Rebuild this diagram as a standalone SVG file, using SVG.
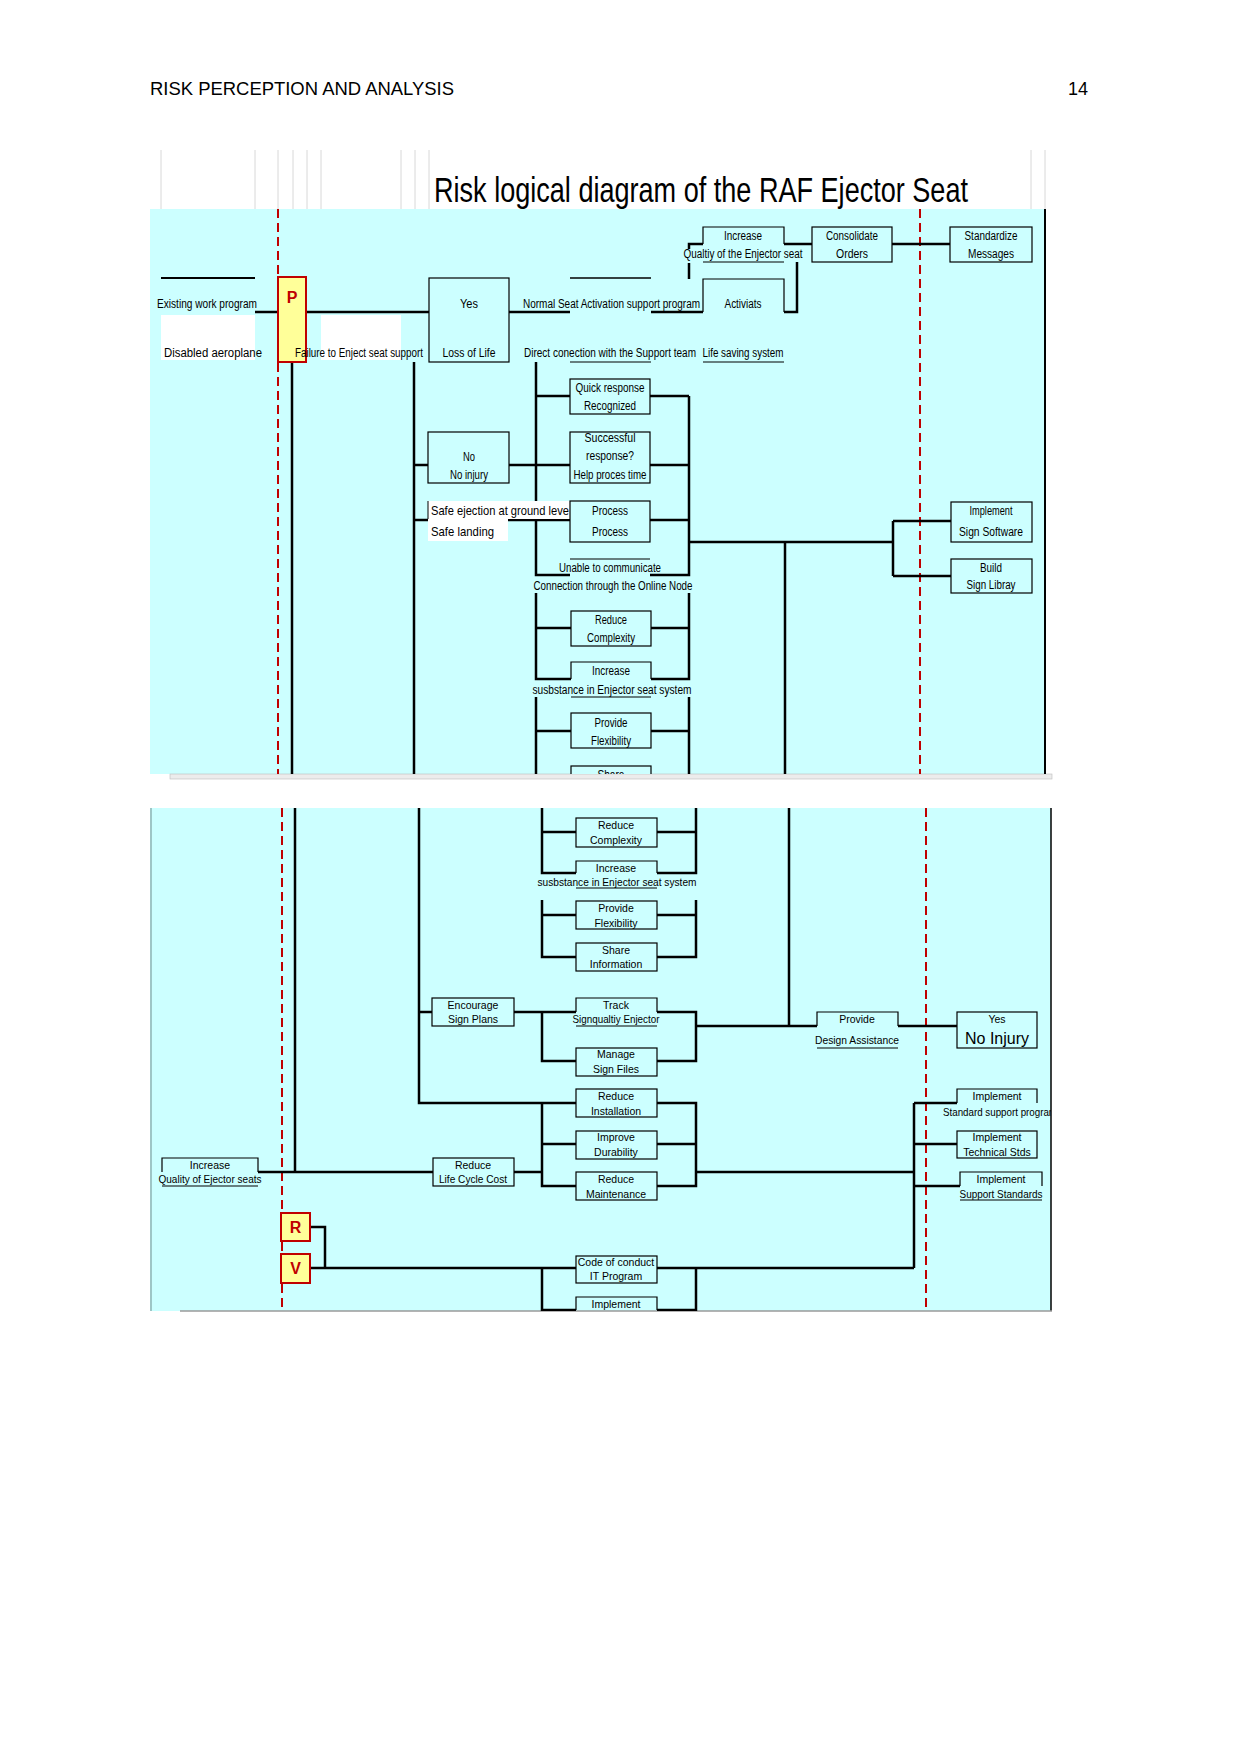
<svg xmlns="http://www.w3.org/2000/svg" width="1241" height="1754" viewBox="0 0 1241 1754">
<defs>
<style>
.bg{fill:#ccffff}
.ln{stroke:#000;stroke-width:2.5;fill:none}
.th{stroke:#000;stroke-width:1.2;fill:none}
.box{fill:#ccffff;stroke:#000;stroke-width:1.2}
.wh{fill:#ffffff}
.red{stroke:#c00000;stroke-width:2;stroke-dasharray:9 5;fill:none}
.grid{stroke:#d8d8d8;stroke-width:1}
.pv{fill:#ffff99;stroke:#c00000;stroke-width:2}
.pvt{font-family:"Liberation Sans",Arial,sans-serif;font-weight:bold;font-size:16px;fill:#c00000;text-anchor:middle}
.t{font-family:"Liberation Sans",Arial,sans-serif;font-size:12.5px;fill:#000;text-anchor:middle}
.s{font-family:"Liberation Sans",Arial,sans-serif;font-size:10.5px;fill:#000;text-anchor:middle}
.st{text-anchor:start}
.hd{font-family:"Liberation Sans",Arial,sans-serif;font-size:18px;fill:#000}
</style>
<clipPath id="c1"><rect x="150" y="150" width="895" height="624"/></clipPath>
<clipPath id="c2"><rect x="150" y="808" width="901" height="503"/></clipPath>
</defs>
<rect width="1241" height="1754" fill="#ffffff"/>
<text class="hd" x="150" y="95" textLength="304" lengthAdjust="spacingAndGlyphs">RISK PERCEPTION AND ANALYSIS</text>
<text class="hd" x="1068" y="95">14</text>

<!-- Panel 1 -->
<g id="panel1">
<g class="grid">
<line x1="161" y1="150" x2="161" y2="209"/><line x1="255" y1="150" x2="255" y2="209"/>
<line x1="278" y1="150" x2="278" y2="209"/><line x1="293" y1="150" x2="293" y2="209"/>
<line x1="307" y1="150" x2="307" y2="209"/><line x1="321" y1="150" x2="321" y2="209"/>
<line x1="401" y1="150" x2="401" y2="209"/><line x1="415" y1="150" x2="415" y2="209"/>
<line x1="429" y1="150" x2="429" y2="209"/><line x1="1031" y1="150" x2="1031" y2="209"/>
<line x1="1045" y1="150" x2="1045" y2="209"/>
</g>
<text x="434" y="202" font-family="Liberation Sans, Arial, sans-serif" font-size="35" textLength="534" lengthAdjust="spacingAndGlyphs">Risk logical diagram of the RAF Ejector Seat</text>
<rect class="bg" x="150" y="209" width="895" height="565"/>
<rect x="170" y="774" width="882" height="5" fill="#ececec" stroke="#bdbdbd" stroke-width="0.6"/>
<line x1="1045" y1="209" x2="1045" y2="774" stroke="#000" stroke-width="2"/>
</g>

<g id="panel2">
<rect class="bg" x="150" y="808" width="901" height="503"/>
<line x1="151" y1="808" x2="151" y2="1311" stroke="#7f9f9f" stroke-width="1.2"/>
<line x1="1051" y1="808" x2="1051" y2="1311" stroke="#000" stroke-width="1.5"/>
<line x1="180" y1="1311" x2="1052" y2="1311" stroke="#9a9a9a" stroke-width="1.5"/>
</g>

<!-- connectors -->
<g id="connectors">
<g clip-path="url(#c1)">
<line class="red" x1="278" y1="209" x2="278" y2="774"/>
<line class="red" x1="920" y1="209" x2="920" y2="774"/>
<line x1="161" y1="278" x2="255" y2="278" stroke="#000" stroke-width="2"/>
<path class="ln" d="M255,312H278 M306,312H429 M509,312H570 M651,312H703 M784,312H797V262"/>
<line x1="570" y1="278" x2="651" y2="278" stroke="#000" stroke-width="1.6"/>
<path class="ln" d="M689,249V244H703 M689,263V279 M784,244H812 M892,244H950"/>
<path class="th" d="M570,362H651 M703,362H784"/>
<path class="ln" d="M292,362V774 M414,362V774"/>
<path class="ln" d="M536,362V575H570 M536,593V679H571 M536,697V774"/>
<path class="ln" d="M689,396V575H650 M689,593V679H651 M689,697V774"/>
<path class="ln" d="M536,396H570 M650,396H689 M509,465H570 M650,465H689 M414,465H428 M650,520H689 M536,628H571 M651,628H689 M536,731H571 M651,731H689"/>
<line x1="414" y1="520" x2="570" y2="520" stroke="#000" stroke-width="2.5"/>
<path class="ln" d="M689,542H893 M785,542V774 M893,521V576 M893,521H951 M893,576H951"/>
</g>
<g clip-path="url(#c2)">
<line class="red" x1="282" y1="808" x2="282" y2="1311"/>
<line class="red" x1="926" y1="808" x2="926" y2="1311"/>
<path class="ln" d="M295,808V1172 M419,808V1103H576 M789,808V1026"/>
<path class="ln" d="M542,808V873H576 M696,808V873H657 M542,832H576 M657,832H696"/>
<path class="ln" d="M542,900V957H576 M696,900V957H657 M542,915H576 M657,915H696"/>
<path class="ln" d="M419,1012H432 M514,1012H576 M542,1012V1061H576 M657,1012H696V1061H657 M696,1026H817 M898,1026H957"/>
<path class="ln" d="M542,1103V1186H576 M657,1103H696V1186H657 M542,1144H576 M657,1144H696"/>
<path class="ln" d="M258,1172H433 M514,1172H542 M696,1172H914 M914,1103V1268 M914,1103H957 M914,1144H957 M914,1186H960"/>
<path class="ln" d="M310,1227H325V1268 M310,1268H576 M657,1268H914 M542,1268V1310H576 M696,1268V1310H657"/>
</g>
</g>

<!-- nodes panel 1 -->
<g clip-path="url(#c1)">
<g id="n-existing">
<text class="t" x="207" y="308" textLength="100" lengthAdjust="spacingAndGlyphs">Existing work program</text>
</g>
<g id="n-disabled">
<rect class="wh" x="161" y="315" width="94" height="45"/>
<text class="t st" x="164" y="357" textLength="98" lengthAdjust="spacingAndGlyphs">Disabled aeroplane</text>
</g>
<g id="n-p">
<rect class="pv" x="278" y="277" width="28" height="85"/>
<text class="pvt" x="292" y="303">P</text>
</g>
<g id="n-failure">
<rect class="wh" x="321" y="315" width="80" height="45"/>
<text class="t st" x="295" y="357" textLength="128" lengthAdjust="spacingAndGlyphs">Failure to Enject seat support</text>
</g>
<g id="n-yes">
<rect class="box" x="429" y="278" width="80" height="84"/>
<text class="t" x="469" y="308" textLength="18" lengthAdjust="spacingAndGlyphs">Yes</text>
<text class="t" x="469" y="357" textLength="53" lengthAdjust="spacingAndGlyphs">Loss of Life</text>
</g>
<g id="n-normal">
<text class="t st" x="523" y="308" textLength="177" lengthAdjust="spacingAndGlyphs">Normal Seat Activation support program</text>
<text class="t st" x="524" y="357" textLength="172" lengthAdjust="spacingAndGlyphs">Direct conection with the Support team</text>
</g>
<g id="n-activiats">
<path class="th" d="M703,312V279H784V312"/>
<text class="t" x="743" y="308" textLength="37" lengthAdjust="spacingAndGlyphs">Activiats</text>
<text class="t" x="743" y="357" textLength="81" lengthAdjust="spacingAndGlyphs">Life saving system</text>
</g>
<g id="n-increase-q">
<path class="th" d="M703,244V227H784V244 M703,262H784"/>
<text class="t" x="743" y="240" textLength="38" lengthAdjust="spacingAndGlyphs">Increase</text>
<text class="t" x="743" y="258" textLength="119" lengthAdjust="spacingAndGlyphs">Qualtiy of the Enjector seat</text>
</g>
<g id="n-consolidate">
<rect class="box" x="812" y="227" width="80" height="35"/>
<text class="t" x="852" y="240" textLength="52" lengthAdjust="spacingAndGlyphs">Consolidate</text>
<text class="t" x="852" y="258" textLength="32" lengthAdjust="spacingAndGlyphs">Orders</text>
</g>
<g id="n-standardize">
<rect class="box" x="950" y="227" width="82" height="35"/>
<text class="t" x="991" y="240" textLength="53" lengthAdjust="spacingAndGlyphs">Standardize</text>
<text class="t" x="991" y="258" textLength="46" lengthAdjust="spacingAndGlyphs">Messages</text>
</g>
<g id="n-quick">
<rect class="box" x="570" y="379" width="80" height="35"/>
<text class="t" x="610" y="392" textLength="69" lengthAdjust="spacingAndGlyphs">Quick response</text>
<text class="t" x="610" y="410" textLength="52" lengthAdjust="spacingAndGlyphs">Recognized</text>
</g>
<g id="n-no">
<rect class="box" x="428" y="432" width="81" height="51"/>
<text class="t" x="469" y="461" textLength="12" lengthAdjust="spacingAndGlyphs">No</text>
<text class="t" x="469" y="479" textLength="38" lengthAdjust="spacingAndGlyphs">No injury</text>
</g>
<g id="n-successful">
<rect class="box" x="570" y="432" width="80" height="51"/>
<text class="t" x="610" y="442" textLength="51" lengthAdjust="spacingAndGlyphs">Successful</text>
<text class="t" x="610" y="460" textLength="48" lengthAdjust="spacingAndGlyphs">response?</text>
<text class="t" x="610" y="479" textLength="73" lengthAdjust="spacingAndGlyphs">Help proces time</text>
</g>
<g id="n-safe">
<rect class="wh" x="428" y="501" width="142" height="18"/>
<rect class="wh" x="428" y="519" width="80" height="22"/>
<line x1="428" y1="501" x2="428" y2="519" stroke="#000" stroke-width="1"/>
<text class="t st" x="431" y="515" style="font-size:13.5px" textLength="138" lengthAdjust="spacingAndGlyphs">Safe ejection at ground leve</text>
<text class="t st" x="431" y="536" style="font-size:13.5px" textLength="63" lengthAdjust="spacingAndGlyphs">Safe landing</text>
</g>
<g id="n-process">
<rect class="box" x="570" y="501" width="80" height="41"/>
<text class="t" x="610" y="515" textLength="36" lengthAdjust="spacingAndGlyphs">Process</text>
<text class="t" x="610" y="536" textLength="36" lengthAdjust="spacingAndGlyphs">Process</text>
</g>
<g id="n-unable">
<line class="th" x1="570" y1="559" x2="650" y2="559"/>
<text class="t" x="610" y="572" textLength="102" lengthAdjust="spacingAndGlyphs">Unable to communicate</text>
<text class="t" x="613" y="590" textLength="159" lengthAdjust="spacingAndGlyphs">Connection through the Online Node</text>
</g>
<g id="n-implement-sw">
<rect class="box" x="951" y="502" width="81" height="40"/>
<text class="t" x="991" y="515" textLength="43" lengthAdjust="spacingAndGlyphs">Implement</text>
<text class="t" x="991" y="536" textLength="64" lengthAdjust="spacingAndGlyphs">Sign Software</text>
</g>
<g id="n-build">
<rect class="box" x="951" y="559" width="81" height="34"/>
<text class="t" x="991" y="572" textLength="22" lengthAdjust="spacingAndGlyphs">Build</text>
<text class="t" x="991" y="589" textLength="49" lengthAdjust="spacingAndGlyphs">Sign Libray</text>
</g>
<g id="n-reduce-c1">
<rect class="box" x="571" y="611" width="80" height="35"/>
<text class="t" x="611" y="624" textLength="32" lengthAdjust="spacingAndGlyphs">Reduce</text>
<text class="t" x="611" y="642" textLength="48" lengthAdjust="spacingAndGlyphs">Complexity</text>
</g>
<g id="n-increase-s1">
<path class="th" d="M571,679V662H651V679 M571,697H651"/>
<text class="t" x="611" y="675" textLength="38" lengthAdjust="spacingAndGlyphs">Increase</text>
<text class="t" x="612" y="694" textLength="159" lengthAdjust="spacingAndGlyphs">susbstance in Enjector seat system</text>
</g>
<g id="n-provide-f1">
<rect class="box" x="571" y="713" width="80" height="35"/>
<text class="t" x="611" y="727" textLength="33" lengthAdjust="spacingAndGlyphs">Provide</text>
<text class="t" x="611" y="745" textLength="40" lengthAdjust="spacingAndGlyphs">Flexibility</text>
</g>
<g id="n-share1">
<rect class="box" x="571" y="766" width="80" height="30"/>
<text class="t" x="611" y="779" textLength="27" lengthAdjust="spacingAndGlyphs">Share</text>
</g>
</g>

<!-- nodes panel 2 -->
<g clip-path="url(#c2)">
<g id="n-reduce-c2">
<rect class="box" x="576" y="818" width="81" height="29"/>
<text class="s" x="616" y="829">Reduce</text>
<text class="s" x="616" y="844">Complexity</text>
</g>
<g id="n-increase-s2">
<path class="th" d="M576,873V861H657V873 M576,888H657"/>
<text class="s" x="616" y="872">Increase</text>
<text class="s" x="617" y="886" textLength="159" lengthAdjust="spacingAndGlyphs">susbstance in Enjector seat system</text>
</g>
<g id="n-provide-f2">
<rect class="box" x="576" y="901" width="81" height="28"/>
<text class="s" x="616" y="912">Provide</text>
<text class="s" x="616" y="927">Flexibility</text>
</g>
<g id="n-share2">
<rect class="box" x="576" y="943" width="81" height="28"/>
<text class="s" x="616" y="954">Share</text>
<text class="s" x="616" y="968">Information</text>
</g>
<g id="n-encourage">
<rect class="box" x="432" y="998" width="82" height="28"/>
<text class="s" x="473" y="1009">Encourage</text>
<text class="s" x="473" y="1023">Sign Plans</text>
</g>
<g id="n-track">
<path class="th" d="M576,1012V998H657V1012 M576,1026H657"/>
<text class="s" x="616" y="1009">Track</text>
<text class="s" x="616" y="1023" textLength="87" lengthAdjust="spacingAndGlyphs">Signqualtiy Enjector</text>
</g>
<g id="n-manage">
<rect class="box" x="576" y="1048" width="81" height="28"/>
<text class="s" x="616" y="1058">Manage</text>
<text class="s" x="616" y="1073">Sign Files</text>
</g>
<g id="n-provide-da">
<path class="th" d="M817,1026V1012H898V1026 M817,1048H898"/>
<text class="s" x="857" y="1023">Provide</text>
<text class="s" x="857" y="1044" textLength="84" lengthAdjust="spacingAndGlyphs">Design Assistance</text>
</g>
<g id="n-yes-noinjury">
<rect class="box" x="957" y="1012" width="80" height="36"/>
<text class="s" x="997" y="1023">Yes</text>
<text class="s" x="997" y="1044" style="font-size:16px">No Injury</text>
</g>
<g id="n-reduce-inst">
<rect class="box" x="576" y="1089" width="81" height="28"/>
<text class="s" x="616" y="1100">Reduce</text>
<text class="s" x="616" y="1115">Installation</text>
</g>
<g id="n-improve">
<rect class="box" x="576" y="1131" width="81" height="28"/>
<text class="s" x="616" y="1141">Improve</text>
<text class="s" x="616" y="1156">Durability</text>
</g>
<g id="n-reduce-maint">
<rect class="box" x="576" y="1172" width="81" height="28"/>
<text class="s" x="616" y="1183">Reduce</text>
<text class="s" x="616" y="1198">Maintenance</text>
</g>
<g id="n-increase-q2">
<path class="th" d="M162,1172V1158H258V1172 M162,1186H258"/>
<text class="s" x="210" y="1169">Increase</text>
<text class="s" x="210" y="1183" textLength="103" lengthAdjust="spacingAndGlyphs">Quality of Ejector seats</text>
</g>
<g id="n-reduce-lcc">
<rect class="box" x="433" y="1158" width="81" height="28"/>
<text class="s" x="473" y="1169">Reduce</text>
<text class="s" x="473" y="1183" textLength="68" lengthAdjust="spacingAndGlyphs">Life Cycle Cost</text>
</g>
<g id="n-impl-std">
<path class="th" d="M957,1103V1089H1037V1103"/>
<text class="s" x="997" y="1100">Implement</text>
<text class="s st" x="943" y="1116" textLength="114" lengthAdjust="spacingAndGlyphs">Standard support program</text>
</g>
<g id="n-impl-tech">
<rect class="box" x="957" y="1131" width="80" height="27"/>
<text class="s" x="997" y="1141">Implement</text>
<text class="s" x="997" y="1156">Technical Stds</text>
</g>
<g id="n-impl-support">
<path class="th" d="M960,1186V1172H1042V1186 M960,1200H1042"/>
<text class="s" x="1001" y="1183">Implement</text>
<text class="s" x="1001" y="1198" textLength="83" lengthAdjust="spacingAndGlyphs">Support Standards</text>
</g>
<g id="n-r">
<rect class="pv" x="281" y="1213" width="29" height="28"/>
<text class="pvt" x="295.5" y="1233">R</text>
</g>
<g id="n-v">
<rect class="pv" x="281" y="1254" width="29" height="29"/>
<text class="pvt" x="295.5" y="1274">V</text>
</g>
<g id="n-code">
<rect class="box" x="576" y="1256" width="81" height="27"/>
<text class="s" x="616" y="1266">Code of conduct</text>
<text class="s" x="616" y="1280">IT Program</text>
</g>
<g id="n-implement-b">
<path class="th" d="M576,1310V1297H657V1310"/>
<text class="s" x="616" y="1308">Implement</text>
</g>
</g>
</svg>
